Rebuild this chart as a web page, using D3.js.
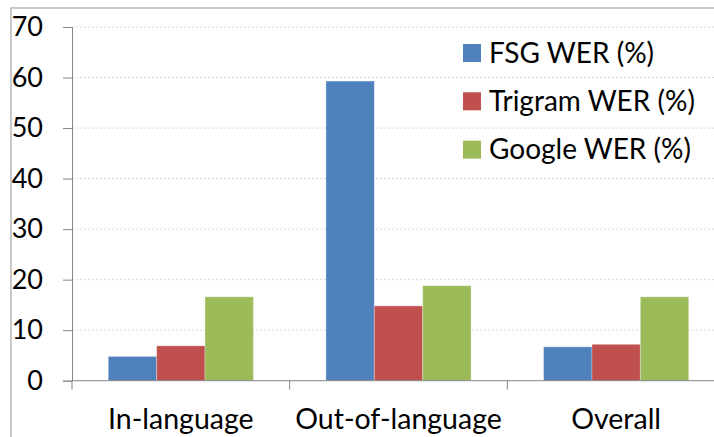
<!DOCTYPE html>
<html>
<head>
<meta charset="utf-8">
<script src="https://cdn.jsdelivr.net/npm/d3@7"></script>
<style>
body { margin: 0; background: #fff; }
text { font-family: Lato, "Open Sans", sans-serif; fill: #000; }
</style>
</head>
<body>
<script>
// WER bar chart, three recognizers over three test sets.
var categories = ['In-language', 'Out-of-language', 'Overall'],
    seriesNames = ['FSG WER (%)', 'Trigram WER (%)', 'Google WER (%)'],
    fsgValues = [4.8, 59.3, 6.7],
    trigramValues = [6.9, 14.8, 7.2],
    googleValues = [16.6, 18.8, 16.6],
    yTicks = [0, 10, 20, 30, 40, 50, 60, 70];

var colors = ['#4f81bd', '#c0504d', '#9bbb59'];
var seriesValues = [fsgValues, trigramValues, googleValues];

var width = 714,
    height = 437,
    plot = {left: 72, right: 725, top: 27, bottom: 380.7};

var svg = d3.select('body').append('svg')
    .attr('width', width)
    .attr('height', height);

// outer chart frame
svg.append('path')
    .attr('d', 'M11,' + (height + 2) + 'V8H' + (width + 2))
    .attr('fill', 'none')
    .attr('stroke', '#b8b8b8')
    .attr('stroke-width', 1.5);

var x0 = d3.scaleBand()
    .domain(categories)
    .range([plot.left, plot.right]);

var x1 = d3.scaleBand()
    .domain(seriesNames)
    .range([0, x0.bandwidth()])
    .paddingOuter(0.75);

var y = d3.scaleLinear()
    .domain([0, 70])
    .range([plot.bottom, plot.top]);

// gridlines
svg.append('g')
    .selectAll('line')
    .data(yTicks.slice(1))
    .enter()
    .append('line')
    .attr('x1', plot.left)
    .attr('x2', plot.right)
    .attr('y1', function(d) { return y(d); })
    .attr('y2', function(d) { return y(d); })
    .attr('stroke', '#d9d9d9')
    .attr('stroke-dasharray', '2,2');

// bars
var groups = svg.append('g')
    .selectAll('g')
    .data(categories)
    .enter()
    .append('g')
    .attr('transform', function(d) { return 'translate(' + x0(d) + ',0)'; });

groups.selectAll('rect')
    .data(function(d, i) {
        return seriesNames.map(function(s, j) {
            return {name: s, value: seriesValues[j][i], color: colors[j]};
        });
    })
    .enter()
    .append('rect')
    .attr('x', function(d) { return x1(d.name); })
    .attr('width', x1.bandwidth())
    .attr('y', function(d) { return y(d.value); })
    .attr('height', function(d) { return plot.bottom - y(d.value); })
    .attr('fill', function(d) { return d.color; })
    .attr('stroke', 'rgba(255,255,255,0.3)')
    .attr('stroke-width', 1);

// y axis
var yAxis = svg.append('g')
    .attr('transform', 'translate(' + plot.left + ',0)')
    .call(d3.axisLeft(y).tickValues(yTicks).tickSize(9).tickPadding(20));
yAxis.select('.domain').attr('stroke', '#868686');
yAxis.selectAll('.tick line').attr('stroke', '#868686');
yAxis.selectAll('.tick text')
    .attr('font-family', 'Lato, sans-serif')
    .attr('font-size', 27)
    .attr('fill', '#000');

// x axis: ticks at the category boundaries
var xAxis = svg.append('g')
    .attr('transform', 'translate(0,' + plot.bottom + ')');
xAxis.append('line')
    .attr('x1', plot.left)
    .attr('x2', plot.right)
    .attr('stroke', '#868686');
xAxis.selectAll('.bound')
    .data(categories)
    .enter()
    .append('line')
    .classed('bound', true)
    .attr('x1', function(d) { return x0(d); })
    .attr('x2', function(d) { return x0(d); })
    .attr('y1', 0)
    .attr('y2', 9)
    .attr('stroke', '#868686');
xAxis.selectAll('text')
    .data(categories)
    .enter()
    .append('text')
    .attr('x', function(d) { return x0(d) + x0.bandwidth() / 2; })
    .attr('y', 48)
    .attr('text-anchor', 'middle')
    .attr('font-size', 28.5)
    .text(function(d) { return d; });

// legend
var legend = svg.append('g')
    .attr('transform', 'translate(463,44)');
var rows = legend.selectAll('g')
    .data(seriesNames)
    .enter()
    .append('g')
    .attr('transform', function(d, i) { return 'translate(0,' + (i * 48.3) + ')'; });
rows.append('rect')
    .attr('width', 18)
    .attr('height', 18)
    .attr('fill', function(d, i) { return colors[i]; });
rows.append('text')
    .attr('x', 26)
    .attr('y', 18.5)
    .attr('font-size', 28)
    .text(function(d) { return d; });
</script>
</body>
</html>
